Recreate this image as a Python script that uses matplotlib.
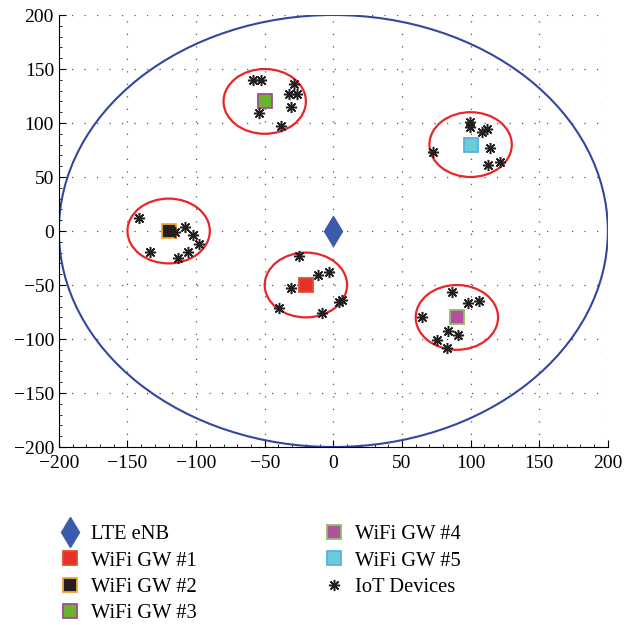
import numpy as np
from matplotlib import pyplot as plt
from matplotlib.patches import Ellipse
from matplotlib.ticker import MultipleLocator

plt.rcParams['font.family'] = ['Liberation Serif', 'DejaVu Serif']

# station positions
enb = (0, 0)
gw_names = ["WiFi GW #1", "WiFi GW #2", "WiFi GW #3", "WiFi GW #4", "WiFi GW #5"]
gw_x = [-20, -120, -50, 90, 100]
gw_y = [-50, 0, 120, -80, 80]
gw_face = ["#e8312a", "#231f20", "#6ab42d", "#b54fa2", "#6ccbd8"]
gw_edge = ["#e0502a", "#f0a830", "#9b4f9b", "#8cc063", "#5ab0e0"]

cell_radius = 200
wifi_radius = 30

# IoT devices per cluster
iot_x = [-25, -3, -11.5, -31, 4, 6, -39.7, -8.6,                    # GW1
         -141.7, -133.7, -113.5, -105.8, -98, -102.1, -108.2, -115.5,  # GW2
         -58.7, -52.8, -28.6, -32.4, -26.4, -31.2, -54.5, -38.3,       # GW3
         86.1, 98.2, 106, 64.7, 83.9, 91, 75.6, 83,                    # GW4
         99.5, 99.5, 108, 111.6, 114.3, 72.3, 112.8, 121.3]            # GW5
iot_y = [-22.9, -37.7, -40.7, -53.1, -66, -64, -71.6, -75.6,
         12, -19.2, -24.7, -19.2, -12.3, -3.7, 4, -1.2,
         139.8, 139.8, 136, 126.6, 126.6, 114.8, 109, 97.2,
         -56.8, -67, -64.8, -79.3, -92.3, -96.6, -100.9, -108,
         101.2, 96, 91.4, 94.4, 77.1, 72.9, 61.4, 64.2]

fig = plt.figure(figsize=(6.26, 6.25), dpi=100)
ax = fig.add_axes([0.094, 0.2848, 0.877, 0.6912])

# coverage circles
ax.add_patch(Ellipse(enb, 2 * cell_radius, 2 * cell_radius, fill=False,
                     edgecolor="#3346a0", lw=1.5, zorder=2))
for x, y in zip(gw_x, gw_y):
    ax.add_patch(Ellipse((x, y), 2 * wifi_radius, 2 * wifi_radius, fill=False,
                         edgecolor="#e8262a", lw=1.6, zorder=2))

ax.plot(*enb, "d", ms=15, color="#3a5ba9", mec="#3a5ba9", label="LTE eNB",
        zorder=4)
for i in range(5):
    ax.plot(gw_x[i], gw_y[i], "s", ms=10, mfc=gw_face[i], mec=gw_edge[i],
            mew=1.3, label=gw_names[i], zorder=4)
# asterisk-like stars (matlab style)
ax.plot(iot_x, iot_y, marker=(8, 2, 0), color="#231f20", ms=8, mew=1.1,
        ls="none", label="IoT Devices", zorder=5)

ax.set_xlim(-200, 200)
ax.set_ylim(-200, 200)
ax.xaxis.set_major_locator(MultipleLocator(50))
ax.yaxis.set_major_locator(MultipleLocator(50))
ax.xaxis.set_minor_locator(MultipleLocator(10))
ax.yaxis.set_minor_locator(MultipleLocator(10))
ax.tick_params(which="both", direction="in", labelsize=14)
ax.tick_params(which="major", length=5)
ax.tick_params(which="minor", length=2.5)
ax.tick_params(axis="x", which="major", pad=6)
ax.spines["top"].set_visible(False)
ax.spines["right"].set_visible(False)
ax.grid(True, which="major", ls=(0, (1, 9)), color="#555555", lw=0.9)
ax.set_axisbelow(True)

leg = fig.legend(loc="upper left", bbox_to_anchor=(0.062, 0.19), ncol=2,
                 frameon=False, fontsize=14.8, handlelength=1.2,
                 columnspacing=6.05, labelspacing=0.34, handletextpad=0.45)

fig.savefig("out.png", dpi=100)
